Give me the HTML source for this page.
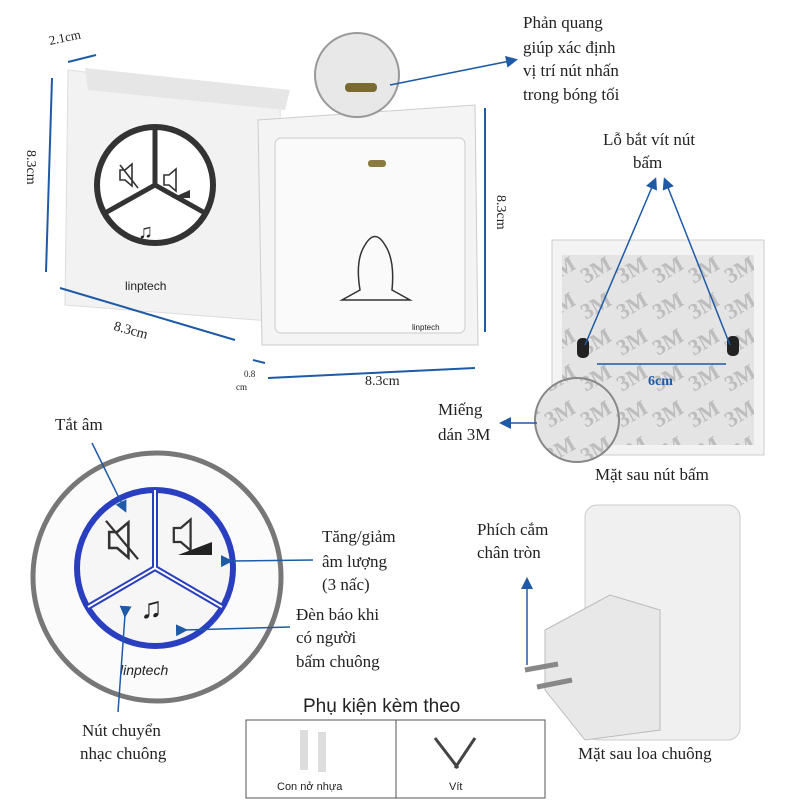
<!DOCTYPE html>
<html><head><meta charset="utf-8"><style>
body{margin:0;background:#fff}
svg{display:block}
text{font-family:"Liberation Serif","DejaVu Serif",serif;fill:#222}
.s{font-family:"Liberation Sans","DejaVu Sans",sans-serif}
</style></head><body>
<svg width="800" height="800" viewBox="0 0 800 800">
<defs>
<marker id="a" markerWidth="8" markerHeight="8" refX="6" refY="4" orient="auto"><path d="M0,0 L8,4 L0,8z" fill="#1f5aa6"/></marker>
<pattern id="p3m" width="36" height="36" patternUnits="userSpaceOnUse"><rect width="36" height="36" fill="#e4e4e4"/><text x="4" y="26" font-size="22" font-weight="bold" style="fill:#bdbdbd" transform="rotate(-30 18 18)">3M</text></pattern>
<g id="spk"><path d="M-8,-5 L-3,-5 L4,-11 L4,11 L-3,5 L-8,5Z" fill="none" stroke="#333" stroke-width="1.6"/></g>
</defs>
<!-- speaker unit -->
<path d="M68,70 L280,95 L282,322 L65,305 Z" fill="#f2f2f2" stroke="#ddd"/>
<path d="M85,68 L290,90 L285,110 L88,90Z" fill="#e6e6e6"/>
<circle cx="155" cy="185" r="58" fill="#fff" stroke="#333" stroke-width="6"/>
<path d="M155,185 L155,128 M155,185 L105,213 M155,185 L205,213" stroke="#333" stroke-width="5"/>
<use href="#spk" x="128" y="175"/><line x1="120" y1="165" x2="138" y2="188" stroke="#333" stroke-width="1.6"/>
<use href="#spk" x="172" y="180"/><path d="M172,198 L190,198 L190,190Z" fill="#333"/>
<text x="138" y="238" font-size="20">♫</text>
<text x="125" y="290" class="s" font-size="12" fill="#666">linptech</text>
<!-- button unit -->
<path d="M258,120 L475,105 L478,345 L262,345 Z" fill="#f4f4f4" stroke="#ccc"/>
<rect x="275" y="138" width="190" height="195" rx="6" fill="#fafafa" stroke="#ccc"/>
<rect x="368" y="160" width="18" height="7" rx="3" fill="#8a7a40"/>
<path d="M360,290 Q355,260 365,245 Q375,228 385,245 Q395,260 392,290 L410,300 L342,300Z" fill="none" stroke="#333" stroke-width="1.5"/>
<text x="412" y="330" class="s" font-size="8" fill="#555">linptech</text>
<!-- magnifier 1 -->
<circle cx="357" cy="75" r="42" fill="#e8e8e8" stroke="#999" stroke-width="2"/>
<rect x="345" y="83" width="32" height="9" rx="4" fill="#7a6a30"/>
<line x1="390" y1="85" x2="515" y2="60" stroke="#1f5aa6" stroke-width="1.5" marker-end="url(#a)"/>
<g font-size="17"><text x="523" y="28">Phản quang</text><text x="523" y="53">giúp xác định</text><text x="523" y="76">vị trí nút nhấn</text><text x="523" y="100">trong bóng tối</text></g>
<!-- dimension lines -->
<g stroke="#1f5aa6" stroke-width="2"><line x1="68" y1="62" x2="96" y2="55"/><line x1="52" y1="78" x2="46" y2="272"/><line x1="60" y1="288" x2="235" y2="340"/><line x1="485" y1="108" x2="485" y2="332"/><line x1="268" y1="378" x2="475" y2="368"/><line x1="253" y1="360" x2="265" y2="363"/></g>
<text x="50" y="45" font-size="13" transform="rotate(-12 50 45)">2.1cm</text>
<text x="27" y="150" font-size="14" transform="rotate(90 27 150)">8.3cm</text>
<text x="113" y="330" font-size="14" transform="rotate(15 113 330)">8.3cm</text>
<text x="497" y="195" font-size="14" transform="rotate(90 497 195)">8.3cm</text>
<text x="244" y="377" font-size="9">0.8</text><text x="236" y="390" font-size="9">cm</text>
<text x="365" y="385" font-size="14">8.3cm</text>
<!-- back plate -->
<text x="603" y="145" font-size="17">Lỗ bắt vít nút</text><text x="633" y="168" font-size="17">bấm</text>
<rect x="552" y="240" width="212" height="215" fill="#f3f3f3" stroke="#ccc"/>
<rect x="562" y="255" width="192" height="190" fill="url(#p3m)"/>
<rect x="577" y="338" width="12" height="20" rx="5" fill="#222"/><rect x="727" y="336" width="12" height="20" rx="5" fill="#222"/>
<g stroke="#1f5aa6" stroke-width="1.5"><line x1="585" y1="345" x2="655" y2="180" marker-end="url(#a)"/><line x1="730" y1="345" x2="665" y2="180" marker-end="url(#a)"/><line x1="597" y1="364" x2="726" y2="364"/></g>
<text x="648" y="385" font-size="14" font-weight="bold" style="fill:#1f5aa6">6cm</text>
<circle cx="577" cy="420" r="42" fill="url(#p3m)" stroke="#888" stroke-width="2"/>
<line x1="537" y1="423" x2="502" y2="423" stroke="#1f5aa6" stroke-width="1.5" marker-end="url(#a)"/>
<text x="438" y="415" font-size="17">Miếng</text><text x="438" y="440" font-size="17">dán 3M</text>
<text x="595" y="480" font-size="17">Mặt sau nút bấm</text>
<!-- big circle -->
<circle cx="157" cy="577" r="124" fill="#fbfbfb" stroke="#777" stroke-width="5"/>
<circle cx="155" cy="568" r="78" fill="#f6f6f6" stroke="#2a3fbf" stroke-width="6"/>
<path d="M155,568 L155,490 M155,568 L88,607 M155,568 L222,607" stroke="#2a3fbf" stroke-width="6"/>
<path d="M155,568 L155,490 M155,568 L88,607 M155,568 L222,607" stroke="#fff" stroke-width="2"/>
<g transform="translate(122,540) scale(1.6)"><use href="#spk"/><line x1="-10" y1="-12" x2="10" y2="12" stroke="#333" stroke-width="1.4"/></g>
<g transform="translate(185,535) scale(1.4)"><use href="#spk"/></g>
<path d="M178,555 L212,555 L212,542Z" fill="#222"/>
<text x="140" y="618" font-size="30">♫</text>
<text x="120" y="675" class="s" font-size="14" font-style="italic" fill="#666">linptech</text>
<text x="55" y="430" font-size="17">Tắt âm</text>
<g font-size="17"><text x="322" y="542">Tăng/giảm</text><text x="322" y="567">âm lượng</text><text x="322" y="590">(3 nấc)</text>
<text x="296" y="620">Đèn báo khi</text><text x="296" y="643">có người</text><text x="296" y="667">bấm chuông</text>
<text x="82" y="736">Nút chuyển</text><text x="80" y="759">nhạc chuông</text></g>
<g stroke="#1f5aa6" stroke-width="1.5"><line x1="92" y1="443" x2="125" y2="510" marker-end="url(#a)"/><line x1="230" y1="561" x2="313" y2="560" marker-start="url(#a)"/><line x1="185" y1="630" x2="290" y2="627" marker-start="url(#a)"/><line x1="125" y1="615" x2="118" y2="712" marker-start="url(#a)"/></g>
<!-- accessories -->
<text x="303" y="712" class="s" font-size="19">Phụ kiện kèm theo</text>
<rect x="246" y="720" width="299" height="78" fill="#fff" stroke="#555"/><line x1="396" y1="720" x2="396" y2="798" stroke="#555"/>
<rect x="300" y="730" width="8" height="40" fill="#ddd"/><rect x="318" y="732" width="8" height="40" fill="#ddd"/>
<path d="M435,738 L458,768 M475,738 L455,768" stroke="#444" stroke-width="3"/>
<text x="277" y="790" class="s" font-size="11">Con nở nhựa</text><text x="449" y="790" class="s" font-size="11">Vít</text>
<!-- plug unit -->
<rect x="585" y="505" width="155" height="235" rx="12" fill="#f0f0f0" stroke="#ccc"/>
<path d="M545,630 L610,595 L660,610 L660,730 L585,740 L545,690Z" fill="#e8e8e8" stroke="#bbb"/>
<line x1="525" y1="670" x2="558" y2="664" stroke="#888" stroke-width="5"/><line x1="537" y1="687" x2="572" y2="680" stroke="#888" stroke-width="5"/>
<line x1="527" y1="665" x2="527" y2="580" stroke="#1f5aa6" stroke-width="1.5" marker-end="url(#a)"/>
<text x="477" y="535" font-size="17">Phích cắm</text><text x="477" y="558" font-size="17">chân tròn</text>
<text x="578" y="759" font-size="17">Mặt sau loa chuông</text>
</svg>
</body></html>
